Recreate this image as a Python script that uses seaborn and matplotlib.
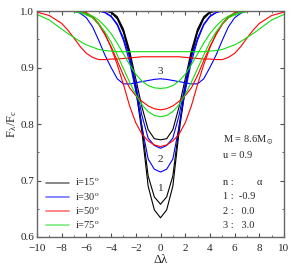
import numpy as np
import pandas as pd
import matplotlib
matplotlib.use("Agg")
import matplotlib.pyplot as plt
import seaborn as sns

# half profile (profiles are symmetric about 0)
half_x = [0, 0.5, 1, 1.5, 2, 2.5, 3, 3.5, 4, 4.5, 5, 5.5, 6, 6.5, 7, 7.5, 8, 9, 10]

i15_a1 = [0.634, 0.648, 0.690, 0.785, 0.862, 0.920, 0.962, 0.986, 0.997, 1.0, 1.0, 1.0, 1.0, 1.0, 1.0, 1.0, 1.0, 1.0, 1.0]
i15_a2 = [0.658, 0.671, 0.708, 0.795, 0.868, 0.925, 0.965, 0.988, 0.998, 1.0, 1.0, 1.0, 1.0, 1.0, 1.0, 1.0, 1.0, 1.0, 1.0]
i15_a3 = [0.772, 0.774, 0.790, 0.830, 0.880, 0.930, 0.968, 0.990, 0.999, 1.0, 1.0, 1.0, 1.0, 1.0, 1.0, 1.0, 1.0, 1.0, 1.0]

i30_a1 = [0.715, 0.720, 0.738, 0.795, 0.858, 0.910, 0.948, 0.975, 0.990, 0.997, 1.0, 1.0, 1.0, 1.0, 1.0, 1.0, 1.0, 1.0, 1.0]
i30_a2 = [0.757, 0.762, 0.775, 0.815, 0.870, 0.918, 0.952, 0.977, 0.991, 0.998, 1.0, 1.0, 1.0, 1.0, 1.0, 1.0, 1.0, 1.0, 1.0]
i30_a3 = [0.880, 0.879, 0.877, 0.875, 0.873, 0.871, 0.871, 0.880, 0.900, 0.922, 0.948, 0.972, 0.988, 0.996, 1.0, 1.0, 1.0, 1.0, 1.0]

i50_a1 = [0.760, 0.763, 0.770, 0.782, 0.802, 0.832, 0.870, 0.905, 0.935, 0.960, 0.978, 0.990, 0.997, 1.0, 1.0, 1.0, 1.0, 1.0, 1.0]
i50_a2 = [0.825, 0.827, 0.832, 0.840, 0.850, 0.864, 0.886, 0.912, 0.937, 0.958, 0.976, 0.988, 0.995, 0.999, 1.0, 1.0, 1.0, 1.0, 1.0]
i50_a3 = [0.919, 0.919, 0.919, 0.919, 0.918, 0.917, 0.916, 0.915, 0.915, 0.914, 0.914, 0.918, 0.925, 0.937, 0.952, 0.966, 0.978, 0.992, 0.998]

i75_a1 = [0.813, 0.815, 0.822, 0.834, 0.852, 0.874, 0.898, 0.922, 0.945, 0.963, 0.977, 0.988, 0.993, 0.997, 0.999, 1.0, 1.0, 1.0, 1.0]
i75_a2 = [0.863, 0.864, 0.868, 0.876, 0.888, 0.905, 0.924, 0.943, 0.960, 0.973, 0.984, 0.991, 0.995, 0.998, 0.999, 1.0, 1.0, 1.0, 1.0]
i75_a3 = [0.928, 0.928, 0.928, 0.928, 0.928, 0.928, 0.928, 0.928, 0.929, 0.930, 0.932, 0.936, 0.940, 0.946, 0.953, 0.960, 0.968, 0.984, 0.994]

incl_labels = ["i=15$^\\mathregular{o}$", "i=30$^\\mathregular{o}$",
               "i=50$^\\mathregular{o}$", "i=75$^\\mathregular{o}$"]
alphas = ["-0.9", "0.0", "3.0"]
colors = ["black", "#0000ff", "#ff0000", "#11dd11"]

profiles = [[i15_a1, i15_a2, i15_a3], [i30_a1, i30_a2, i30_a3],
            [i50_a1, i50_a2, i50_a3], [i75_a1, i75_a2, i75_a3]]

rows = []
for lab, group in zip(incl_labels, profiles):
    for a, half in zip(alphas, group):
        xs = [-v for v in half_x[::-1]] + half_x[1:]
        ys = half[::-1] + half[1:]
        for x, y in zip(xs, ys):
            rows.append({"dl": x, "flux": y, "incl": lab, "alpha": a})
df = pd.DataFrame(rows)

sns.set_style("ticks")
plt.rcParams["font.family"] = ["Liberation Serif", "DejaVu Sans"]
plt.rcParams["mathtext.fontset"] = "stix"

fig = plt.figure(figsize=(2.94, 2.71), dpi=100)
ax = fig.add_axes([37 / 294, 1 - 237 / 271, 247 / 294, 226 / 271])

sns.lineplot(data=df, x="dl", y="flux", hue="incl", units="alpha",
             estimator=None, palette=colors, lw=0.8, ax=ax)

ax.set_xlim(-10, 10)
ax.set_ylim(0.6, 1.0)
ax.set_xticks(np.arange(-10, 11, 2))
ax.set_xticks(np.arange(-10, 11, 1), minor=True)
ax.set_yticks([0.6, 0.7, 0.8, 0.9, 1.0])
ax.set_yticks(np.arange(0.6, 1.001, 0.05), minor=True)
ax.tick_params(which="both", direction="in", top=True, right=True,
               labelsize=8, color="0.3")
ax.tick_params(axis="x", pad=5)
ax.tick_params(axis="y", pad=2)
ax.tick_params(which="major", length=3)
ax.tick_params(which="minor", length=1.5)
for s in ax.spines.values():
    s.set_color("0.4")
    s.set_linewidth(1)

ax.set_xlabel("Δλ", fontsize=9, labelpad=1)
ax.set_ylabel("F$_\\mathregular{λ}$/F$_\\mathregular{c}$", fontsize=9, labelpad=1)

leg = ax.legend(loc="lower left", bbox_to_anchor=(0.01, 0.0), frameon=False,
                fontsize=7.5, handlelength=2.2, handletextpad=0.6,
                labelspacing=0.25, borderaxespad=0.2)
for h in leg.get_lines():
    h.set_linewidth(1.2)
    h.set_alpha(0.55)

ax.text(0, 0.885, "3", ha="center", va="bottom", fontsize=8)
ax.text(0, 0.738, "2", ha="center", va="center", fontsize=8)
ax.text(0, 0.685, "1", ha="center", va="center", fontsize=8)

ax.text(5.1, 0.770, "M = 8.6M$_\\odot$", fontsize=7.5, va="center")
ax.text(5.1, 0.745, "u = 0.9", fontsize=7.5, va="center")
ax.text(5.1, 0.696, "n :", fontsize=7.5, va="center")
ax.text(7.8, 0.696, "α", fontsize=7.5, va="center")
ax.text(5.1, 0.671, "1 :  -0.9", fontsize=7.5, va="center")
ax.text(5.1, 0.646, "2 :   0.0", fontsize=7.5, va="center")
ax.text(5.1, 0.621, "3 :   3.0", fontsize=7.5, va="center")

fig.savefig("out.png", dpi=100)
